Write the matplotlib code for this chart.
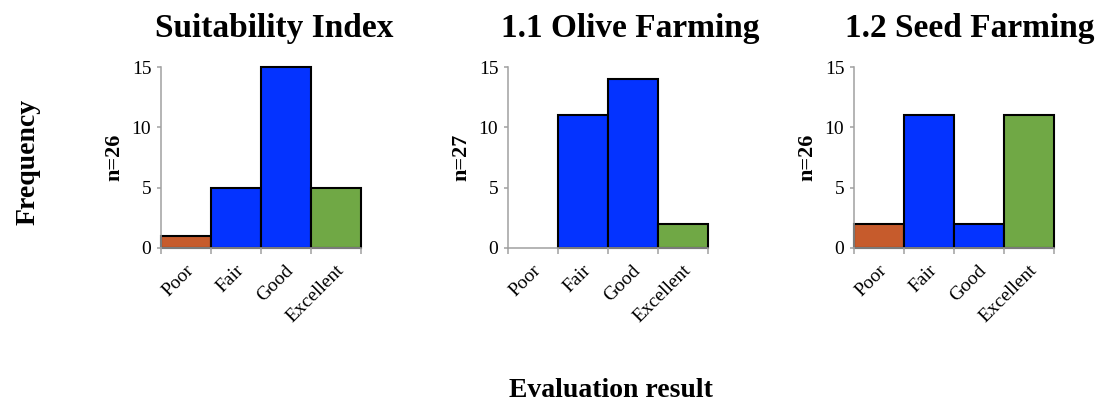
import numpy as np
import matplotlib.pyplot as plt
from matplotlib.ticker import FixedLocator, NullFormatter
from matplotlib.transforms import ScaledTranslation

plt.rcParams['font.family'] = ['Liberation Serif', 'DejaVu Serif']

# ------------------------------ #
#              Data              #
# ------------------------------ #
categories = ['Poor', 'Fair', 'Good', 'Excellent']
bar_colors = ['#C65B2C', '#0433FF', '#0433FF', '#70A845']

titles = ['Suitability Index', '1.1 Olive Farming', '1.2 Seed Farming']
sample_sizes = [26, 27, 26]

suitability_counts = [1, 5, 15, 5]
olive_counts = [0, 11, 14, 2]
seed_counts = [2, 11, 2, 11]
all_counts = [suitability_counts, olive_counts, seed_counts]

# ------------------------------ #
#             Layout             #
# ------------------------------ #
W, H = 1107, 405
fig = plt.figure(figsize=(W / 100, H / 100), dpi=100)

axes_left_px = [161, 508, 854]
title_x_px = [274, 630, 970]
ax_top_px, ax_bottom_px, ax_width_px = 67, 248, 200
axis_gray = '#A0A0A0'

for i, counts in enumerate(all_counts):
    ax = fig.add_axes([axes_left_px[i] / W, 1 - ax_bottom_px / H,
                       ax_width_px / W, (ax_bottom_px - ax_top_px) / H])
    x = np.arange(len(categories)) + 0.5
    # empty categories get no outline at all
    widths = [1.5 if c > 0 else 0 for c in counts]
    ax.bar(x, counts, width=1.0, color=bar_colors, edgecolor='black',
           linewidth=widths, clip_on=False, zorder=1)

    ax.set_xlim(0, len(categories))
    ax.set_ylim(0, 15)
    ax.set_yticks([0, 5, 10, 15])

    # ticks sit on the bar boundaries; category names are placed under the bars
    ax.xaxis.set_major_locator(FixedLocator(np.arange(len(categories) + 1)))
    ax.xaxis.set_major_formatter(NullFormatter())
    offset = ScaledTranslation(5 / 100, -20 / 100, fig.dpi_scale_trans)
    for xc, name in zip(x, categories):
        ax.text(xc, 0, name, transform=ax.get_xaxis_transform() + offset,
                rotation=45, ha='right', va='center', rotation_mode='anchor',
                fontsize=14)
    ax.tick_params(axis='x', which='major', length=4, width=1.1, color=axis_gray)
    ax.tick_params(axis='y', length=3, width=1.1, color=axis_gray,
                   labelsize=14, pad=4)

    for side in ['top', 'right']:
        ax.spines[side].set_visible(False)
    for side in ['left', 'bottom']:
        ax.spines[side].set_color(axis_gray)
        ax.spines[side].set_linewidth(1.1)

    ax.text(-0.235, 0.5, 'n=%d' % sample_sizes[i], transform=ax.transAxes,
            rotation=90, ha='center', va='center', fontsize=16, fontweight='bold')

    fig.text(title_x_px[i] / W, 1 - 37 / H, titles[i], ha='center',
             va='baseline', fontsize=24, fontweight='bold')

fig.text(28 / W, 1 - 162 / H, 'Frequency', rotation=90, ha='center',
         va='center', fontsize=20, fontweight='bold')
fig.text(611 / W, 1 - 397 / H, 'Evaluation result', ha='center',
         va='baseline', fontsize=20, fontweight='bold')

fig.savefig('out.png', dpi=100)
